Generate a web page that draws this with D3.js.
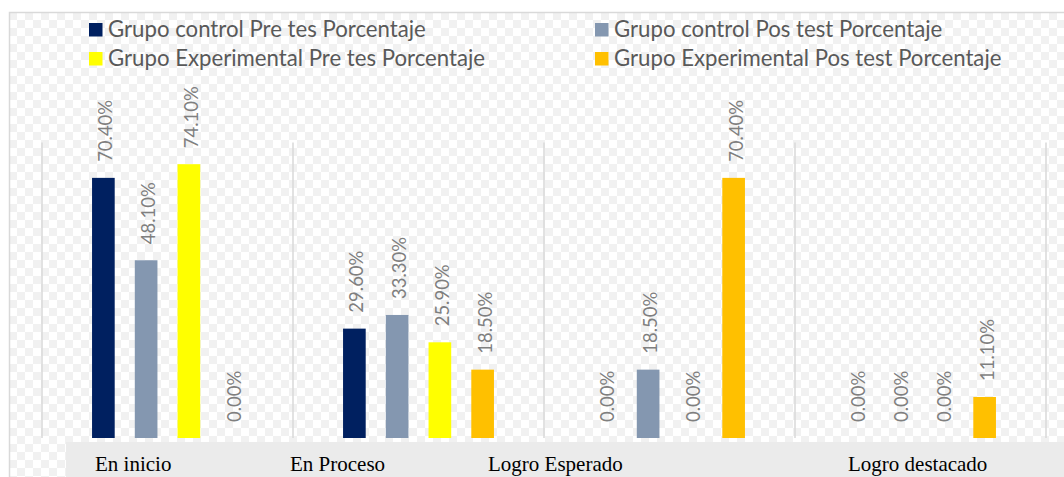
<!DOCTYPE html>
<html>
<head>
<meta charset="utf-8">
<script src="https://cdn.jsdelivr.net/npm/d3@7"></script>
<style>
  body { margin: 0; background: #fff; }
  svg { display: block; }
</style>
</head>
<body>
<div id="chart"></div>
<script>
// chart values
const categories = ["En inicio", "En Proceso", "Logro Esperado", "Logro destacado"];
const series = [
  "Grupo control Pre tes Porcentaje",
  "Grupo control Pos test Porcentaje",
  "Grupo Experimental Pre tes Porcentaje",
  "Grupo Experimental Pos test Porcentaje"
];
const controlPre = [70.4, 29.6, 0, 0];
const controlPos = [48.1, 33.3, 18.5, 0];
const expPre = [74.1, 25.9, 0, 0];
const expPos = [0, 18.5, 70.4, 11.1];

const colors = ["#002060", "#8497b0", "#ffff00", "#ffc000"];
// where the category labels start (text box in the original, not centered)
const catLabelX = [95, 290, 488, 848];

const width = 1064;
const height = 477;
const baseY = 438;

const values = [controlPre, controlPos, expPre, expPos];
const rows = [];
categories.forEach(function (c, i) {
  series.forEach(function (s, j) {
    rows.push({ cat: c, series: s, value: values[j][i], idx: j });
  });
});

const svg = d3.select("#chart").append("svg")
  .attr("width", width)
  .attr("height", height);

// checker background (transparent area of the source image)
const defs = svg.append("defs");
const pat = defs.append("pattern")
  .attr("id", "checker")
  .attr("width", 16).attr("height", 16)
  .attr("patternUnits", "userSpaceOnUse")
  .attr("x", 9).attr("y", 12);
pat.append("rect").attr("width", 16).attr("height", 16).attr("fill", "#ffffff");
pat.append("rect").attr("width", 8).attr("height", 8).attr("fill", "#f1f1f1");
pat.append("rect").attr("x", 8).attr("y", 8).attr("width", 8).attr("height", 8).attr("fill", "#f1f1f1");

svg.append("rect")
  .attr("x", 9).attr("y", 12)
  .attr("width", width - 9).attr("height", height - 12)
  .attr("fill", "url(#checker)");

svg.append("path")
  .attr("d", "M9.5," + height + "V12.5H" + width)
  .attr("fill", "none")
  .attr("stroke", "#d9d9d9")
  .attr("stroke-width", 1.5);

// grey band under the plot
svg.append("rect")
  .attr("x", 66).attr("y", 442)
  .attr("width", width - 66).attr("height", height - 442)
  .attr("fill", "#ebebeb");

const x0 = d3.scaleBand()
  .domain(categories)
  .range([42, 1046]);

const x1 = d3.scaleBand()
  .domain(series)
  .range([40, 211]);

const barW = x1.step() * 0.53;

const y = d3.scaleLinear()
  .domain([0, 80])
  .range([baseY, 142.4]);

// category separators
svg.append("g")
  .selectAll("line")
  .data(categories.concat(["end"]))
  .enter().append("line")
  .attr("x1", function (d, i) { return 42 + i * x0.step(); })
  .attr("x2", function (d, i) { return 42 + i * x0.step(); })
  .attr("y1", y(80))
  .attr("y2", baseY)
  .attr("stroke", "#d9d9d9")
  .attr("stroke-width", 1.5);

function cx(d) {
  return x0(d.cat) + x1(d.series) + x1.step() / 2;
}

svg.append("g")
  .selectAll("rect")
  .data(rows)
  .enter().append("rect")
  .attr("x", function (d) { return cx(d) - barW / 2; })
  .attr("y", function (d) { return y(d.value); })
  .attr("width", barW)
  .attr("height", function (d) { return baseY - y(d.value); })
  .attr("fill", function (d) { return colors[d.idx]; });

// fit a font size so that a sample string has the target width
function fitSize(family, sample, target) {
  const t = svg.append("text")
    .style("font-family", family)
    .style("font-size", "20px")
    .text(sample);
  const w = t.node().getComputedTextLength();
  t.remove();
  return 20 * target / w;
}

const sansFont = "Lato, 'Open Sans', sans-serif";
const labSize = fitSize(sansFont, "70.40%", 62);
const legSize = fitSize(sansFont, series[0], 318);

svg.append("g")
  .selectAll("text")
  .data(rows)
  .enter().append("text")
  .attr("transform", function (d) {
    return "translate(" + (cx(d) + 2.5) + "," + (y(d.value) - 16) + ") rotate(-90)";
  })
  .attr("dy", "0.35em")
  .style("font-family", sansFont)
  .style("font-size", labSize + "px")
  .attr("fill", "#7f7f7f")
  .text(function (d) { return d.value.toFixed(2) + "%"; });

// category labels
svg.append("g")
  .selectAll("text")
  .data(categories)
  .enter().append("text")
  .attr("x", function (d, i) { return catLabelX[i]; })
  .attr("y", 471)
  .style("font-family", "'Liberation Serif', 'Times New Roman', serif")
  .style("font-size", "21px")
  .attr("fill", "#000")
  .text(function (d) { return d; });

// legend
const legX = [89, 595];
const legY = [29.5, 58.5];
const leg = svg.append("g")
  .selectAll("g")
  .data(series)
  .enter().append("g")
  .attr("transform", function (d, i) {
    return "translate(" + legX[i % 2] + "," + legY[Math.floor(i / 2)] + ")";
  });

leg.append("rect")
  .attr("x", 0).attr("y", -6.5)
  .attr("width", 13.5).attr("height", 13.5)
  .attr("fill", function (d, i) { return colors[i]; });

leg.append("text")
  .attr("x", 19)
  .attr("dy", "0.35em")
  .style("font-family", sansFont)
  .style("font-size", legSize + "px")
  .attr("fill", "#595959")
  .text(function (d) { return d; });
</script>
</body>
</html>
